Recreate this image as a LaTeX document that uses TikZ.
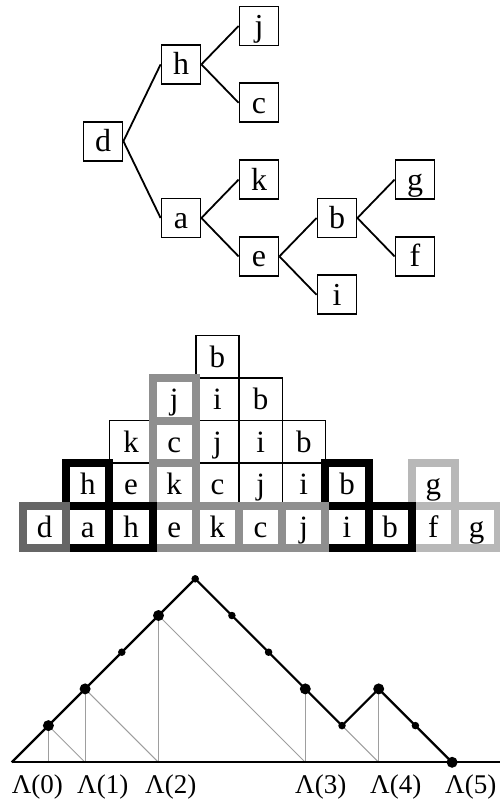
\documentclass[tikz,border=0pt]{standalone}
\usepackage{fontspec}
\setmainfont{Liberation Serif}
\usetikzlibrary{positioning}

\definecolor{stackdark}{gray}{0.40}
\definecolor{stackmid}{gray}{0.56}
\definecolor{stacklight}{gray}{0.72}
\definecolor{guide}{gray}{0.62}

\begin{document}
\begin{tikzpicture}[
      x=1pt, y=-1pt, on grid,
      node distance=38.4pt and 78pt,
      vert/.style={draw, rectangle, minimum size=39pt, inner sep=0pt, line width=1.8pt,
                   font=\fontsize{32}{34}\selectfont, text height=21pt, text depth=0pt},
      branch/.style={line width=1.8pt},
      slot/.style={draw, rectangle, minimum width=43.2pt, minimum height=42.5pt,
                   inner sep=0pt, outer sep=0pt, line width=1.4pt,
                   font=\fontsize{31}{33}\selectfont, text height=21pt, text depth=0pt},
      stackframe/.style={line width=8pt},
      walk/.style={line width=2.2pt, line join=round},
      guideline/.style={line width=1pt, color=guide},
      bigdot/.style={circle, fill, inner sep=0pt, minimum size=11pt},
      smalldot/.style={circle, fill, inner sep=0pt, minimum size=7.5pt},
      lab/.style={anchor=west, inner sep=0pt, font=\fontsize{27}{29}\selectfont},
      rise/.style={above right=36.7pt and 36.7pt of #1},
      fall/.style={below right=36.7pt and 36.7pt of #1},
    ]
    \useasboundingbox (0,0) rectangle (500,804);

    % tree
    \node[vert] (d) at (103,141.2) {d};
    \node[vert, above right=76.8pt and 78pt of d] (h) {h};
    \node[vert, below right=76.8pt and 78pt of d] (a) {a};
    \node[vert, above right=of h] (j) {j};
    \node[vert, below right=of h] (c) {c};
    \node[vert, above right=of a] (k) {k};
    \node[vert, below right=of a] (e) {e};
    \node[vert, above right=of e] (b) {b};
    \node[vert, below right=of e] (i) {i};
    \node[vert, above right=of b] (g) {g};
    \node[vert, below right=of b] (f) {f};

    \draw[branch] (d.east) -- (h.west);
    \draw[branch] (d.east) -- (a.west);
    \draw[branch] (h.east) -- (j.west);
    \draw[branch] (h.east) -- (c.west);
    \draw[branch] (a.east) -- (k.west);
    \draw[branch] (a.east) -- (e.west);
    \draw[branch] (e.east) -- (b.west);
    \draw[branch] (e.east) -- (i.west);
    \draw[branch] (b.east) -- (g.west);
    \draw[branch] (b.east) -- (f.west);

    % stack, bottom row
    \node[slot] (r1c0) at (44.6,526.75) {d};
    \node[slot, right=43.2pt of r1c0] (r1c1) {a};
    \node[slot, right=43.2pt of r1c1] (r1c2) {h};
    \node[slot, right=43.2pt of r1c2] (r1c3) {e};
    \node[slot, right=43.2pt of r1c3] (r1c4) {k};
    \node[slot, right=43.2pt of r1c4] (r1c5) {c};
    \node[slot, right=43.2pt of r1c5] (r1c6) {j};
    \node[slot, right=43.2pt of r1c6] (r1c7) {i};
    \node[slot, right=43.2pt of r1c7] (r1c8) {b};
    \node[slot, right=43.2pt of r1c8] (r1c9) {f};
    \node[slot, right=43.2pt of r1c9] (r1c10) {g};
    % second row
    \node[slot, above=42.5pt of r1c1] (r2c1) {h};
    \node[slot, right=43.2pt of r2c1] (r2c2) {e};
    \node[slot, right=43.2pt of r2c2] (r2c3) {k};
    \node[slot, right=43.2pt of r2c3] (r2c4) {c};
    \node[slot, right=43.2pt of r2c4] (r2c5) {j};
    \node[slot, right=43.2pt of r2c5] (r2c6) {i};
    \node[slot, right=43.2pt of r2c6] (r2c7) {b};
    \node[slot, above=42.5pt of r1c9] (r2c9) {g};
    % third row
    \node[slot, above=42.5pt of r2c2] (r3c2) {k};
    \node[slot, right=43.2pt of r3c2] (r3c3) {c};
    \node[slot, right=43.2pt of r3c3] (r3c4) {j};
    \node[slot, right=43.2pt of r3c4] (r3c5) {i};
    \node[slot, right=43.2pt of r3c5] (r3c6) {b};
    % fourth and fifth row
    \node[slot, above=42.5pt of r3c3] (r4c3) {j};
    \node[slot, right=43.2pt of r4c3] (r4c4) {i};
    \node[slot, right=43.2pt of r4c4] (r4c5) {b};
    \node[slot, above=42.5pt of r4c4] (r5c4) {b};

    % thick outlines
    \draw[stackframe, stacklight] (r2c9.south west) rectangle (r2c9.north east);
    \draw[stackframe, stacklight] (r1c9.south west) rectangle (r1c9.north east);
    \draw[stackframe, stacklight] (r1c10.south west) rectangle (r1c10.north east);
    \draw[stackframe, black] (r2c7.south west) rectangle (r2c7.north east);
    \draw[stackframe, black] (r1c7.south west) rectangle (r1c7.north east);
    \draw[stackframe, black] (r1c8.south west) rectangle (r1c8.north east);
    \draw[stackframe, stackmid] (r4c3.south west) rectangle (r4c3.north east);
    \draw[stackframe, stackmid] (r3c3.south west) rectangle (r3c3.north east);
    \draw[stackframe, stackmid] (r2c3.south west) rectangle (r2c3.north east);
    \draw[stackframe, stackmid] (r1c3.south west) rectangle (r1c3.north east);
    \draw[stackframe, stackmid] (r1c4.south west) rectangle (r1c4.north east);
    \draw[stackframe, stackmid] (r1c5.south west) rectangle (r1c5.north east);
    \draw[stackframe, stackmid] (r1c6.south west) rectangle (r1c6.north east);
    \draw[stackframe, black] (r2c1.south west) rectangle (r2c1.north east);
    \draw[stackframe, black] (r1c1.south west) rectangle (r1c1.north east);
    \draw[stackframe, black] (r1c2.south west) rectangle (r1c2.north east);
    \draw[stackframe, stackdark] (r1c0.south west) rectangle (r1c0.north east);

    % lattice path
    \coordinate (w0) at (11.7,762.3);
    \coordinate[rise=w0] (w1);
    \coordinate[rise=w1] (w2);
    \coordinate[rise=w2] (w3);
    \coordinate[rise=w3] (w4);
    \coordinate[rise=w4] (w5);
    \coordinate[fall=w5] (w6);
    \coordinate[fall=w6] (w7);
    \coordinate[fall=w7] (w8);
    \coordinate[fall=w8] (w9);
    \coordinate[rise=w9] (w10);
    \coordinate[fall=w10] (w11);
    \coordinate[fall=w11] (w12);
    \coordinate (axisend) at (500,762.3);
    \coordinate (f1) at (w1 |- w0);
    \coordinate (f2) at (w2 |- w0);
    \coordinate (f4) at (w4 |- w0);
    \coordinate (f8) at (w8 |- w0);
    \coordinate (f10) at (w10 |- w0);

    % grey guides
    \draw[guideline] (w1) -- (f1);
    \draw[guideline] (w2) -- (f2);
    \draw[guideline] (w4) -- (f4);
    \draw[guideline] (w8) -- (f8);
    \draw[guideline] (w10) -- (f10);
    \draw[guideline] (w1) -- (f2);
    \draw[guideline] (w2) -- (f4);
    \draw[guideline] (w4) -- (f8);
    \draw[guideline] (w8) -- (f10);

    \draw[walk] (w0) -- (axisend);
    \draw[walk] (w0) -- (w1) -- (w2) -- (w3) -- (w4) -- (w5) -- (w6)
      -- (w7) -- (w8) -- (w9) -- (w10) -- (w11) -- (w12);

    \node[bigdot] (p1) at (w1) {};
    \node[bigdot] (p2) at (w2) {};
    \node[bigdot] (p4) at (w4) {};
    \node[bigdot] (p8) at (w8) {};
    \node[bigdot] (p10) at (w10) {};
    \node[bigdot] (p12) at (w12) {};
    \node[smalldot] (q3) at (w3) {};
    \node[smalldot] (q5) at (w5) {};
    \node[smalldot] (q6) at (w6) {};
    \node[smalldot] (q7) at (w7) {};
    \node[smalldot] (q9) at (w9) {};
    \node[smalldot] (q11) at (w11) {};

    % labels
    \node[lab] (l0) at (11.7,787) {Λ(0)};
    \node[lab] (l1) at (77,787) {Λ(1)};
    \node[lab] (l2) at (145,787) {Λ(2)};
    \node[lab] (l3) at (295,787) {Λ(3)};
    \node[lab] (l4) at (370,787) {Λ(4)};
    \node[lab] (l5) at (445,787) {Λ(5)};
  \end{tikzpicture}
\end{document}
